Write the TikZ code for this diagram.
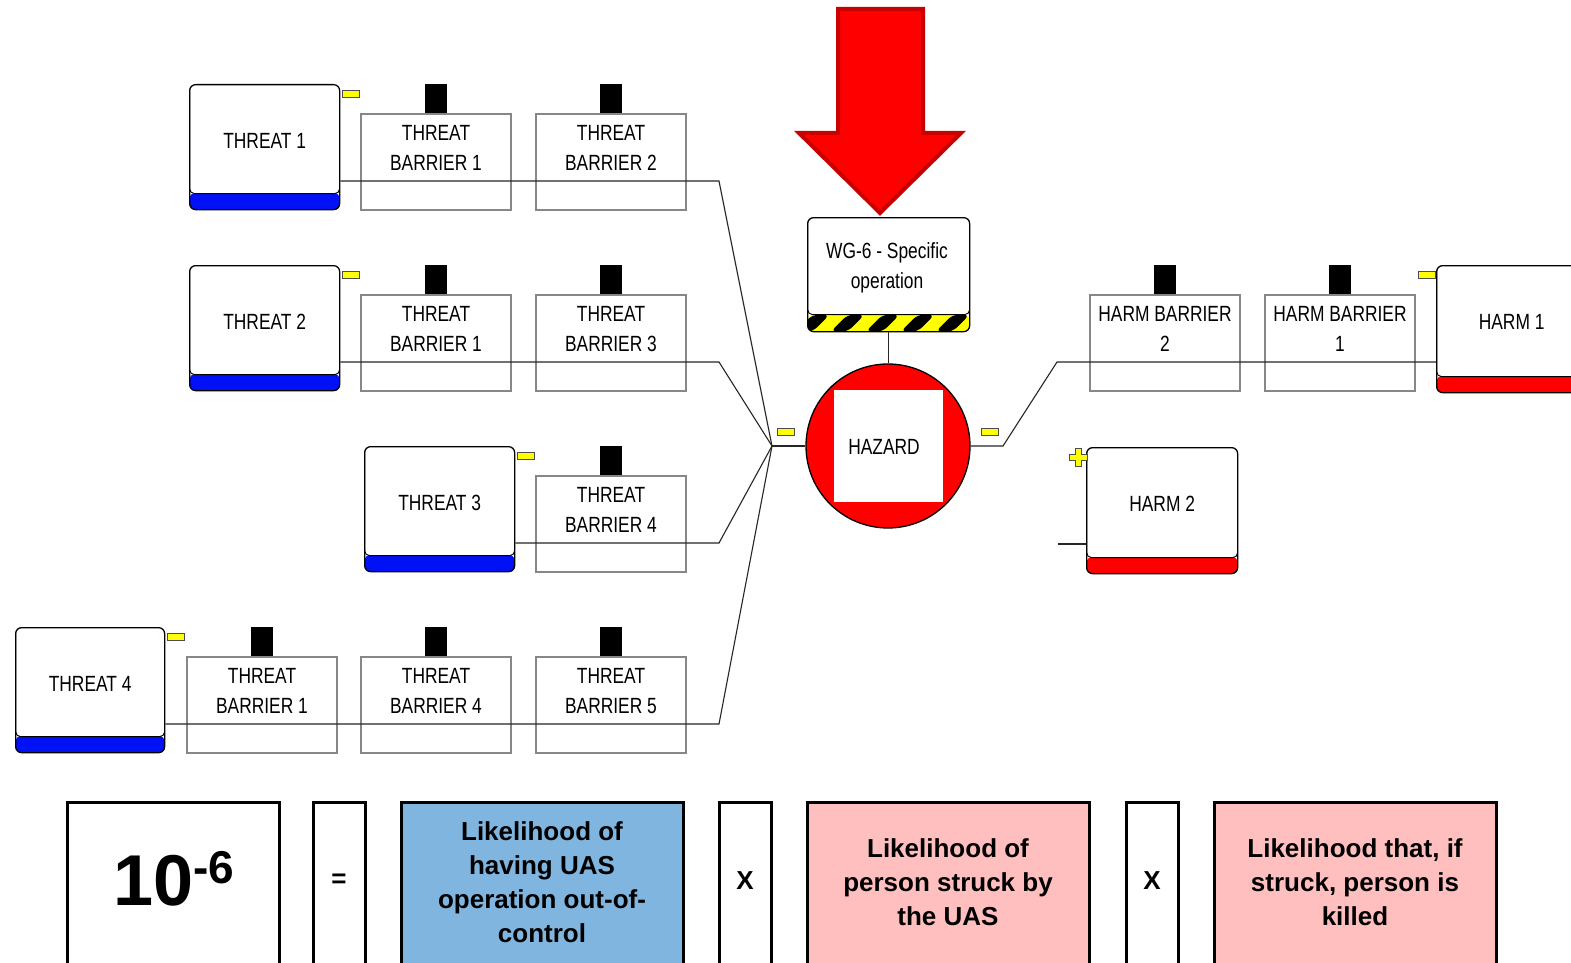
\documentclass[tikz,border=0pt]{standalone}
\usepackage{fontspec}
\setmainfont{Liberation Sans}
\newfontfamily\narrowsans[FakeStretch=0.79]{Liberation Sans}
\usetikzlibrary{calc}

\definecolor{threatblue}{RGB}{0,18,245}
\definecolor{harmred}{RGB}{255,0,0}
\definecolor{barriergray}{RGB}{135,135,135}
\definecolor{cellblue}{RGB}{127,181,222}
\definecolor{cellpink}{RGB}{255,191,191}
\definecolor{arrowedge}{RGB}{200,0,0}
\definecolor{markyellow}{RGB}{255,255,0}

\tikzset{
  conn/.style={line width=1.1pt, draw=black!85},
  lbl/.style={font=\narrowsans\fontsize{22}{30}\selectfont, align=center, inner sep=0pt},
  riskframe/.style={draw=black, line width=1.3pt, rounded corners=6pt, fill=white,
    inner sep=0pt, anchor=north west},
  barrierbox/.style={draw=barriergray, line width=2pt, fill=white, minimum width=150pt,
    minimum height=96pt, inner sep=0pt, anchor=north west},
  tabbox/.style={fill=black, minimum width=22pt, minimum height=29pt, inner sep=0pt, anchor=south},
  minusmark/.style={draw=black!70, fill=markyellow, line width=0.8pt, minimum width=17pt,
    minimum height=7pt, inner sep=0pt},
  eqbox/.style={draw=black, line width=3pt, inner sep=0pt, anchor=north, minimum height=175pt},
  eqtxt/.style={font=\bfseries\fontsize{26}{34}\selectfont, align=center, inner sep=0pt},
}

% threat / harm box: name, left, top, width, height, strip colour, text
\newcommand\riskbox[7]{%
  \node[riskframe, minimum width=#4pt, minimum height=#5pt,
    path picture={
      \fill[#6] (path picture bounding box.south west) rectangle
        ([yshift=17pt]path picture bounding box.south east);
      \draw[fill=white, line width=0.9pt, rounded corners=5pt]
        ([yshift=3pt]path picture bounding box.north west) rectangle
        ([yshift=16pt]path picture bounding box.south east);
    }] (#1) at (#2,#3) {};
  \node[lbl] (#1-text) at ([yshift=-57pt]#1.north) {#7};
}

% barrier box with its black tab: name, left, top, text
\newcommand\barrier[4]{%
  \node[barrierbox] (#1) at (#2,#3) {};
  \node[tabbox] (#1-tab) at (#1.north) {};
  \node[lbl] (#1-text) at ([yshift=-35pt]#1.north) {#4};
}

\begin{document}
\begin{tikzpicture}[x=1pt,y=-1pt]
\useasboundingbox (0,0) rectangle (1571,963);
\clip (0,0) rectangle (1571,963);
\fill[white] (0,0) rectangle (1571,963);

% ---------- barriers ----------
\barrier{b11}{360}{113}{THREAT\\BARRIER 1}
\barrier{b12}{535}{113}{THREAT\\BARRIER 2}
\barrier{b21}{360}{294}{THREAT\\BARRIER 1}
\barrier{b22}{535}{294}{THREAT\\BARRIER 3}
\barrier{b31}{535}{475}{THREAT\\BARRIER 4}
\barrier{b41}{186}{656}{THREAT\\BARRIER 1}
\barrier{b42}{360}{656}{THREAT\\BARRIER 4}
\barrier{b43}{535}{656}{THREAT\\BARRIER 5}
\barrier{hb2}{1089}{294}{HARM BARRIER\\2}
\barrier{hb1}{1264}{294}{HARM BARRIER\\1}

% ---------- threats and harms ----------
\riskbox{t1}{189}{84}{150}{125}{threatblue}{THREAT 1}
\riskbox{t2}{189}{265}{150}{125}{threatblue}{THREAT 2}
\riskbox{t3}{364}{446}{150}{125}{threatblue}{THREAT 3}
\riskbox{t4}{15}{627}{149}{125}{threatblue}{THREAT 4}
\riskbox{h1}{1436}{265}{150}{127}{harmred}{HARM 1}
\riskbox{h2}{1086}{447}{151}{126}{harmred}{HARM 2}

% ---------- top event ----------
\filldraw[fill=red, draw=arrowedge, line width=4pt, line join=miter]
  (838,9) -- (923,9) -- (923,133) -- (961,133) -- (880,213) -- (799,133) -- (838,133) -- cycle;

\node[riskframe, minimum width=162pt, minimum height=114pt,
  path picture={
    \fill[markyellow] (path picture bounding box.south west) rectangle
      ([yshift=17pt]path picture bounding box.south east);
    \foreach \i [evaluate=\i as \sx using \i*35-12] in {0,...,5}
      \fill[black] ([xshift=\sx pt]path picture bounding box.south west)
        -- ++(17pt,0pt) -- ++(17pt,17pt) -- ++(-17pt,0pt) -- cycle;
    \draw[fill=white, line width=0.9pt, rounded corners=5pt]
      ([yshift=3pt]path picture bounding box.north west) rectangle
      ([yshift=17pt]path picture bounding box.south east);
  }] (wg) at (807,217) {};
\node[lbl] (wg-text) at (887,268) {WG-6 - Specific\\operation};

\node[circle, draw=black, line width=1.3pt, fill=red, minimum size=164pt, inner sep=0pt] (hz) at (888,446) {};
\node[fill=white, minimum width=109pt, minimum height=112pt, inner sep=0pt] (hzcore) at (888,446) {};
\node[lbl] (hz-text) at (884,447) {HAZARD};

% ---------- connectors ----------
\coordinate (hub) at (772,446);
\coordinate (k1) at (719,181);
\coordinate (k2) at (719,362);
\coordinate (k3) at (719,543);
\coordinate (k4) at (719,724);
\draw[conn] (t1.east |- k1) -- (k1) -- (hub);
\draw[conn] (t2.east |- k2) -- (k2) -- (hub);
\draw[conn] (t3.east |- k3) -- (k3) -- (hub);
\draw[conn] (t4.east |- k4) -- (k4) -- (hub);
\draw[conn] (hub) -- (hz.west);
\draw[conn] (wg.south) -- (wg.south |- hz.north);

\coordinate (r1) at (1003,446);
\coordinate (r2) at (1057,362);
\coordinate (h2in) at (1058,544);
\draw[conn] (hz.east) -- (r1) -- (r2) -- (r2 -| h1.west);
\draw[conn] (h2in) -- (h2in -| h2.west);

% ---------- markers ----------
\node[minusmark] (m1) at ([xshift=10.5pt,yshift=-9.5pt]t1.north east) {};
\node[minusmark] (m2) at ([xshift=10.5pt,yshift=-9.5pt]t2.north east) {};
\node[minusmark] (m3) at ([xshift=10.5pt,yshift=-9.5pt]t3.north east) {};
\node[minusmark] (m4) at ([xshift=10.5pt,yshift=-9.5pt]t4.north east) {};
\node[minusmark] (mhl) at (786,431.5) {};
\node[minusmark] (mhr) at (989.5,431.5) {};
\node[minusmark] (mh1) at ([xshift=-9pt,yshift=-10pt]h1.north west) {};
\filldraw[fill=markyellow, draw=black!70, line width=0.8pt]
  (1075,448) -- (1081,448) -- (1081,454) -- (1087,454) -- (1087,460) -- (1081,460)
  -- (1081,466) -- (1075,466) -- (1075,460) -- (1069,460) -- (1069,454) -- (1075,454) -- cycle;

% ---------- risk equation ----------
\node[eqbox, minimum width=212pt] (e1) at (173,801) {};
\node[eqbox, minimum width=52pt] (e2) at (339,801) {};
\node[eqbox, minimum width=282pt, fill=cellblue] (e3) at (542,801) {};
\node[eqbox, minimum width=52pt] (e4) at (745,801) {};
\node[eqbox, minimum width=282pt, fill=cellpink] (e5) at (948,801) {};
\node[eqbox, minimum width=52pt] (e6) at (1152,801) {};
\node[eqbox, minimum width=282pt, fill=cellpink] (e7) at (1355,801) {};

\node[anchor=base, inner sep=0pt, font=\bfseries] (e1-text) at (174,905)
  {\fontsize{72}{72}\selectfont 10\raisebox{22pt}{\fontsize{46}{46}\selectfont -6}};
\node[eqtxt] (e2-text) at (339,881) {=};
\node[eqtxt] (e3-text) at (542,882) {Likelihood of\\having UAS\\operation out-of-\\control};
\node[eqtxt] (e4-text) at (745,881) {X};
\node[eqtxt] (e5-text) at (948,882) {Likelihood of\\person struck by\\the UAS};
\node[eqtxt] (e6-text) at (1152,881) {X};
\node[eqtxt] (e7-text) at (1355,882) {Likelihood that, if\\struck, person is\\killed};
\end{tikzpicture}
\end{document}
